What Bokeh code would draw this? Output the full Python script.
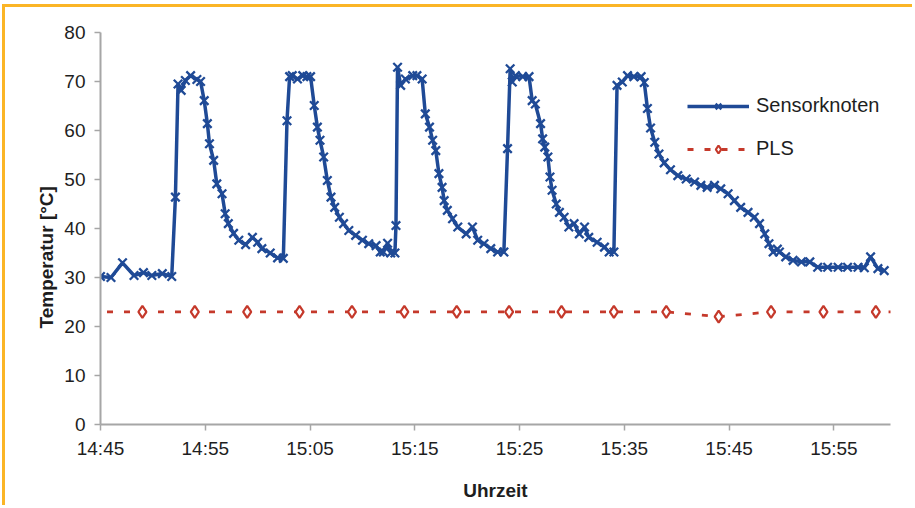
from bokeh.plotting import figure
from bokeh.models import Range1d, Legend, LegendItem, Title, FixedTicker
from bokeh.embed import file_html
from bokeh.resources import INLINE

# Sensorknoten: minutes after 14:45, temperature in °C
minutes = [0.0, 1.0, 2.1, 3.2, 4.1, 4.9, 5.9, 6.8, 7.15, 7.4, 7.7, 8.1, 8.6, 9.2, 9.55,
           9.9, 10.2, 10.4, 10.8, 11.1, 11.6, 11.9, 12.2, 12.7, 13.2, 13.85, 14.5, 15.0,
           15.4, 16.2, 16.9, 17.45, 17.8, 18.05, 18.3, 18.8, 19.3, 19.7, 20.05, 20.4,
           20.7, 20.95, 21.3, 21.65, 22.0, 22.35, 22.8, 23.2, 23.7, 24.35, 25.0, 25.6,
           26.3, 26.7, 27.0, 27.4, 27.7, 28.1, 28.2, 28.35, 28.65, 29.1, 29.8, 30.2,
           30.7, 31.0, 31.4, 31.7, 32.0, 32.3, 32.6, 32.8, 33.1, 33.6, 34.1, 34.9, 35.5,
           36.0, 36.6, 37.25, 37.9, 38.5, 38.85, 39.1, 39.3, 39.6, 40.3, 40.9, 41.2,
           41.5, 42.0, 42.2, 42.4, 42.7, 42.9, 43.1, 43.5, 43.8, 44.25, 44.7, 45.2,
           45.7, 46.2, 46.6, 47.4, 48.1, 48.55, 49.0, 49.3, 49.8, 50.3, 50.9, 51.6,
           51.9, 52.2, 52.5, 52.9, 53.3, 53.8, 54.4, 55.1, 55.9, 56.7, 57.3, 57.9,
           58.6, 59.2, 59.9, 60.5, 61.1, 61.8, 62.4, 62.9, 63.4, 63.8, 64.2, 64.6,
           64.8, 65.4, 66.1, 66.9, 67.7, 68.45, 69.4, 70.4, 71.3, 72.3, 72.9, 73.5,
           74.2, 74.8]
sensor_temp = [30.2, 30.0, 33.0, 30.4, 31.0, 30.4, 30.8, 30.2, 46.4, 69.5, 68.2, 70.2,
               71.2, 70.4, 70.0, 66.1, 61.4, 57.3, 53.9, 49.1, 47.1, 43.0, 41.0, 39.0,
               37.6, 36.7, 38.2, 37.2, 35.9, 35.0, 34.0, 33.9, 62.0, 71.0, 71.2, 70.5,
               71.2, 71.0, 71.0, 65.1, 60.7, 58.0, 54.6, 49.8, 46.4, 44.3, 42.3, 41.0,
               39.6, 38.6, 37.6, 36.9, 36.5, 35.2, 35.2, 37.0, 35.0, 35.0, 40.6, 72.9,
               69.2, 70.5, 71.2, 71.2, 70.5, 63.4, 60.7, 58.0, 55.9, 51.2, 48.4, 45.7,
               43.7, 42.0, 40.3, 38.9, 40.3, 37.6, 36.9, 35.9, 35.2, 35.2, 56.3, 72.6,
               69.9, 71.2, 71.0, 71.0, 66.1, 65.4, 61.4, 58.3, 56.6, 54.6, 50.5, 47.8,
               45.0, 43.3, 42.3, 40.3, 41.0, 38.9, 40.3, 38.2, 37.2, 36.2, 35.2, 35.2,
               69.2, 69.9, 71.2, 71.0, 71.0, 69.8, 64.5, 60.5, 57.6, 55.2, 53.4, 52.0,
               50.8, 50.1, 49.5, 48.8, 48.4, 48.8, 48.1, 47.1, 45.7, 44.3, 43.3, 42.3,
               41.0, 38.9, 36.9, 35.2, 35.8, 35.2, 34.2, 33.5, 33.2, 33.2, 32.1, 32.1,
               32.1, 32.1, 32.1, 32.0, 34.2, 31.8, 31.4]

# PLS: minutes after 14:45 (5-minute samples)
pls_minutes = [-1, 4, 9, 14, 19, 24, 29, 34, 39, 44, 49, 54, 59, 64, 69, 74, 79]
pls_temp = [23, 23, 23, 23, 23, 23, 23, 23, 23, 23, 23, 23, 22, 23, 23, 23, 23]

tick_minutes = [0, 10, 20, 30, 40, 50, 60, 70]
tick_labels = ["14:45", "14:55", "15:05", "15:15", "15:25", "15:35", "15:45", "15:55"]
y_ticks = [0, 10, 20, 30, 40, 50, 60, 70, 80]

BLUE = "#1F4A96"
RED = "#C5392B"
AXIS = "#A6A6A6"
TEXT = "#1E1E1E"
FONT = "Liberation Sans"
ORANGE = "#FBB526"

p = figure(width=910, height=501, output_backend="svg", toolbar_location=None,
           x_range=Range1d(0, 75.4), y_range=Range1d(0, 80),
           min_border_left=95, min_border_right=25, min_border_top=25, min_border_bottom=84)
p.styles = {"margin-left": "2px", "margin-top": "4px",
            "border-left": "3px solid " + ORANGE, "border-top": "3px solid " + ORANGE}
p.outline_line_color = None
p.grid.visible = False
p.background_fill_color = "white"
p.border_fill_color = "white"

s_line = p.line(minutes, sensor_temp, line_color=BLUE, line_width=3.5)
s_mark = p.scatter(minutes, sensor_temp, marker="x", size=12, line_color=BLUE, line_width=2.3)
pl_line = p.line(pls_minutes, pls_temp, line_color=RED, line_width=2.8, line_dash="6 11")
pl_mark = p.scatter(pls_minutes, pls_temp, marker="diamond", size=12, line_color=RED,
                    fill_color="white", line_width=2.2)

for ax in (p.xaxis[0], p.yaxis[0]):
    ax.axis_line_color = AXIS
    ax.axis_line_width = 2
    ax.major_tick_line_color = AXIS
    ax.major_tick_line_width = 1.5
    ax.major_tick_out = 6
    ax.major_tick_in = 0
    ax.minor_tick_line_color = None
    ax.major_label_text_font = FONT
    ax.major_label_text_font_size = "19px"
    ax.major_label_text_color = TEXT

p.xaxis.ticker = FixedTicker(ticks=tick_minutes)
p.xaxis.major_label_overrides = dict(zip(tick_minutes, tick_labels))
p.xaxis.major_label_standoff = 7
p.xaxis.axis_label = "Uhrzeit"
p.xaxis.axis_label_text_font = FONT
p.xaxis.axis_label_text_font_size = "19px"
p.xaxis.axis_label_text_font_style = "bold"
p.xaxis.axis_label_text_color = TEXT
p.xaxis.axis_label_standoff = 18

p.yaxis.ticker = FixedTicker(ticks=y_ticks)
p.yaxis.major_label_standoff = 9

p.add_layout(Title(text="Temperatur [°C]", align="left", offset=96, text_font=FONT,
                   text_font_size="19px", text_font_style="bold", text_color=TEXT), "left")

legend = Legend(items=[LegendItem(label="Sensorknoten", renderers=[s_line, s_mark]),
                       LegendItem(label="PLS", renderers=[pl_line, pl_mark])],
                location=(577, 254), glyph_width=62, glyph_height=20, label_height=20,
                spacing=20, label_standoff=7, padding=10, margin=0,
                label_text_font=FONT, label_text_font_size="20px", label_text_color=TEXT,
                border_line_alpha=0, background_fill_alpha=0)
p.add_layout(legend)

open("out.html", "w").write(file_html(p, INLINE))
